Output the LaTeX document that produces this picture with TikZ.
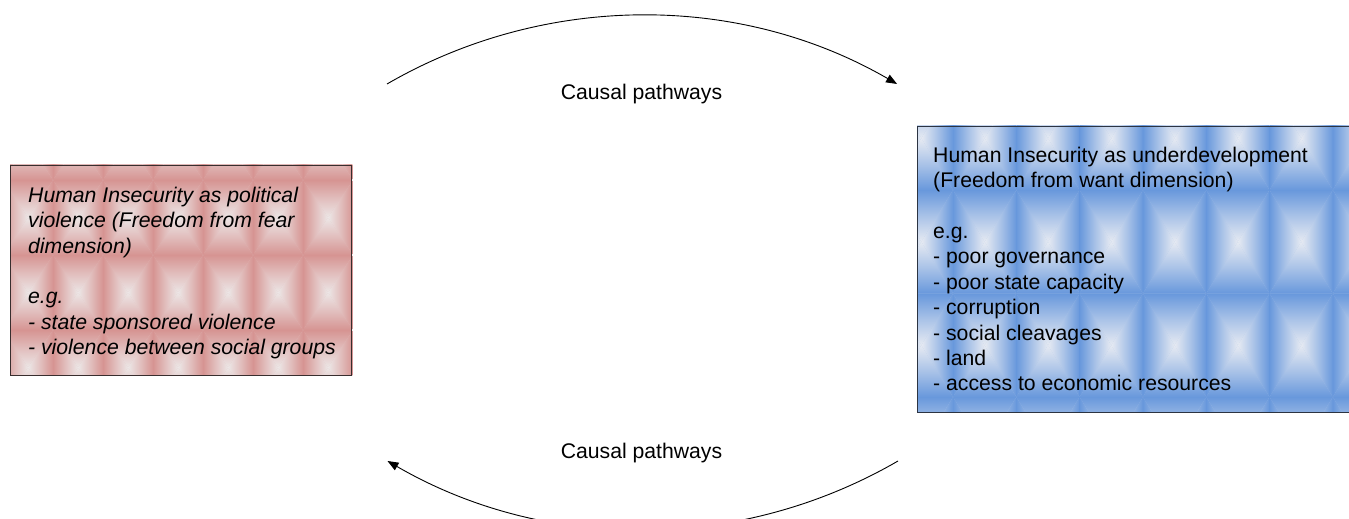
\documentclass[tikz,border=0pt]{standalone}
\usepackage{fontspec}
\setmainfont{Liberation Sans}
\usetikzlibrary{arrows.meta,backgrounds}

\definecolor{roseedge}{RGB}{214,148,146}
\definecolor{rosecenter}{RGB}{236,230,230}
\definecolor{blueedge}{RGB}{104,152,220}
\definecolor{bluecenter}{RGB}{230,234,242}
\definecolor{fearborder}{RGB}{56,46,46}
\definecolor{wantborder}{RGB}{44,52,66}

% Rectangular "from centre" gradient tiles:
% #1,#2 grid origin, #3,#4 tile size, #5,#6 last column/row index, #7 edge colour, #8 centre colour
\newcommand{\tilefill}[8]{%
  \foreach \i in {0,...,#5}{%
    \foreach \j in {0,...,#6}{%
      \pgfmathsetmacro\xa{#1+\i*#3}%
      \pgfmathsetmacro\ya{#2+\j*#4}%
      \pgfmathsetmacro\xb{\xa+#3}%
      \pgfmathsetmacro\yb{\ya+#4}%
      \pgfmathsetmacro\xc{\xa+#3/2}%
      \pgfmathsetmacro\yc{\ya+#4/2}%
      \shade[top color=#7,bottom color=#8,middle color=#7!48!#8]
        (\xa,\yb) -- (\xb,\yb) -- (\xc,\yc) -- cycle;
      \shade[top color=#8,bottom color=#7,middle color=#7!48!#8]
        (\xa,\ya) -- (\xb,\ya) -- (\xc,\yc) -- cycle;
      \shade[left color=#7,right color=#8,middle color=#7!48!#8]
        (\xa,\ya) -- (\xa,\yb) -- (\xc,\yc) -- cycle;
      \shade[left color=#8,right color=#7,middle color=#7!48!#8]
        (\xb,\ya) -- (\xb,\yb) -- (\xc,\yc) -- cycle;
    }%
  }%
}

\tikzset{
  panel/.style={rectangle, inner sep=0pt, line width=1.3pt, anchor=south west},
  paneltext/.style={inner sep=0pt, anchor=north west, align=left,
    font=\fontsize{21.2}{25.4}\selectfont},
  pathlabel/.style={inner sep=0pt, anchor=base,
    font=\fontsize{21.2}{25.4}\selectfont},
  pathway/.style={line width=0.9pt, -{Triangle[length=11pt,width=8.5pt]}},
}

\begin{document}
\begin{tikzpicture}[x=1pt,y=1pt]
  \useasboundingbox (0,0) rectangle (1349,519);
  \clip (0,0) rectangle (1349,519);

  % the two dimension panels
  \node[panel, draw=fearborder, minimum width=341pt, minimum height=210pt] (fear) at (10,143) {};
  \node[panel, draw=wantborder, minimum width=448pt, minimum height=286pt] (want) at (917,106) {};

  \begin{pgfonlayer}{background}
    \begin{scope}
      \clip (fear.south west) rectangle (fear.north east);
      \fill[roseedge!48!rosecenter] (fear.south west) rectangle (fear.north east);
      \tilefill{3}{114}{50}{75}{7}{3}{roseedge}{rosecenter}
    \end{scope}
    \begin{scope}
      \clip (want.south west) rectangle (want.north east);
      \fill[blueedge!48!bluecenter] (want.south west) rectangle (want.north east);
      \tilefill{889.7}{18.5}{63.3}{103.5}{7}{3}{blueedge}{bluecenter}
    \end{scope}
  \end{pgfonlayer}

  \node[paneltext, font=\fontsize{21.2}{25.4}\selectfont\itshape] (feartext) at (28,332.3)
    {Human Insecurity as political\\
     violence (Freedom from fear\\
     dimension)\\[25.4pt]
     e.g.\\
     - state sponsored violence\\
     - violence between social groups};

  \node[paneltext] (wanttext) at (933,372.3)
    {Human Insecurity as underdevelopment\\
     (Freedom from want dimension)\\[25.4pt]
     e.g.\\
     - poor governance\\
     - poor state capacity\\
     - corruption\\
     - social cleavages\\
     - land\\
     - access to economic resources};

  % causal pathway arcs and their labels
  \coordinate (topstart) at (387,435);
  \coordinate (botstart) at (898,58);
  \draw[pathway] (topstart) arc[start angle=120.07, end angle=59.93, radius=509];
  \draw[pathway] (botstart) arc[start angle=-59.9, end angle=-120.1, radius=509];

  \node[pathlabel] (toplabel) at (641.5,419) {Causal pathways};
  \node[pathlabel] (botlabel) at (641.5,60) {Causal pathways};
\end{tikzpicture}
\end{document}
